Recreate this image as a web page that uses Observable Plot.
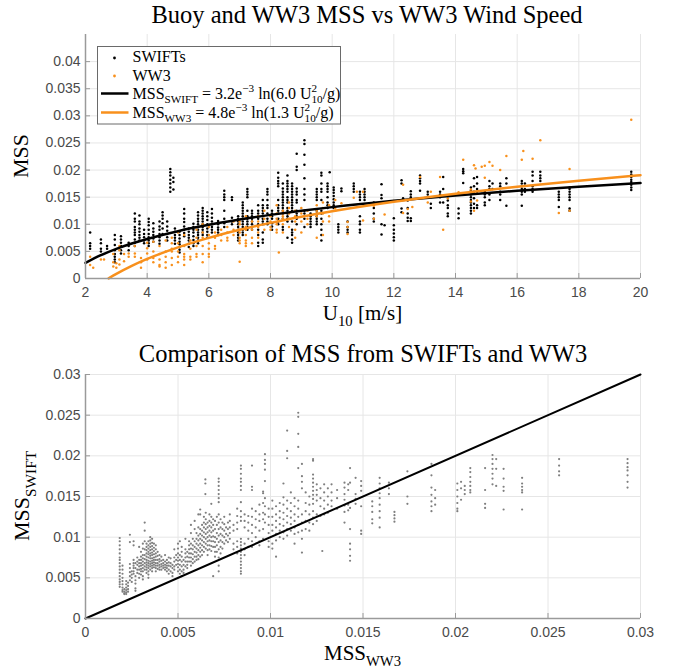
<!DOCTYPE html>
<html><head><meta charset="utf-8">
<script src="https://cdn.jsdelivr.net/npm/d3@7"></script>
<script src="https://cdn.jsdelivr.net/npm/@observablehq/plot@0.6"></script>
<style>
body{margin:0;background:#fff;}
#chart{width:679px;}
#chart svg{display:block;}
</style></head><body><div id="chart"></div>
<script>
// ---------- Top panel: MSS vs WW3 wind speed ----------
const topXTicks = [2, 4, 6, 8, 10, 12, 14, 16, 18, 20];
const topYTicks = [0, 0.005, 0.01, 0.015, 0.02, 0.025, 0.03, 0.035, 0.04];

// SWIFT buoy MSS, grouped by WW3 wind speed (vertical streaks)
const swiftU = [2.15,2.5,2.7,2.95,3.15,3.4,3.6,3.75,3.9,4.05,4.2,4.4,4.5,4.65,4.75,4.85,4.9,5.05,5.2,5.35,5.5,5.65,5.8,5.95,6.1,6.3,6.5,6.75,6.95,7.1,7.25,7.4,7.6,7.75,7.9,8.05,8.25,8.4,8.55,8.7,8.85,9.1,9.3,9.5,9.65,9.85,9.92,10.05,10.2,10.3,10.5,10.7,10.9,11.05,11.35,11.6,11.7,12.0,12.25,12.3,12.45,12.55,12.85,13.1,13.2,13.5,13.6,13.75,14.1,14.25,14.5,14.6,14.7,14.95,15.1,15.2,15.45,15.65,16.15,16.25,16.5,16.75,17.35,17.7,19.7];
const swiftMSS = [
 [0.0085,0.0065,0.006,0.0055],
 [0.0072,0.0065,0.0055,0.005],
 [0.006,0.0055],
 [0.008,0.0072,0.0062,0.0052,0.0045,0.004,0.0035,0.003],
 [0.0078,0.0072,0.0066,0.006,0.0052,0.0046],
 [0.0066,0.006,0.0052],
 [0.012,0.011,0.0105,0.0095,0.009,0.0085,0.008,0.0072,0.0066,0.006],
 [0.0116,0.0105,0.01,0.0092,0.0086,0.008,0.0075,0.007],
 [0.009,0.0082,0.0076,0.007,0.0065],
 [0.011,0.0104,0.0098,0.009,0.0082,0.0076,0.007,0.0065,0.006],
 [0.0102,0.0092,0.0086,0.008,0.0074,0.0068],
 [0.0105,0.0096,0.009,0.0082,0.0076,0.007,0.0064],
 [0.0122,0.0116,0.011,0.0102,0.0092,0.0082],
 [0.0105,0.0096,0.0088,0.0082,0.0076,0.007],
 [0.0202,0.0196,0.019,0.0182,0.0175,0.0168,0.016],
 [0.0186,0.0178,0.0164],
 [0.0092,0.0086,0.008,0.0075,0.007,0.0064],
 [0.0086,0.008,0.0074,0.0068,0.0063,0.0058,0.0053,0.0048],
 [0.0128,0.012,0.011,0.0104,0.0096,0.009,0.0084,0.0078],
 [0.0092,0.0086,0.008,0.0075,0.007,0.0064,0.0058],
 [0.0101,0.0095,0.009,0.0085,0.0078,0.0071,0.0065,0.006],
 [0.0122,0.0116,0.011,0.0105,0.01,0.0095,0.009,0.0085,0.008,0.0075,0.007,0.0065],
 [0.013,0.0125,0.012,0.0115,0.011,0.0105,0.01,0.0095,0.009,0.0085,0.008],
 [0.0122,0.0115,0.0108,0.01,0.0092,0.0086,0.008,0.0075],
 [0.0128,0.012,0.0112,0.0105,0.01,0.0095,0.009,0.0085],
 [0.0106,0.01,0.0094,0.009,0.0085,0.008],
 [0.0162,0.0155,0.015,0.0145,0.0125,0.011,0.0102,0.0095],
 [0.015,0.0145,0.0112,0.0105,0.01],
 [0.0115,0.011,0.0105,0.01,0.0095,0.009,0.0085,0.008,0.0075,0.007],
 [0.014,0.0135,0.013,0.0125,0.012,0.0115,0.011,0.0105,0.01,0.0095,0.009,0.0085,0.008],
 [0.0165,0.016,0.0155,0.015,0.0125,0.0115,0.011,0.0105,0.01,0.0095,0.009],
 [0.0125,0.012,0.0115,0.011,0.0105,0.01,0.0095,0.009],
 [0.0135,0.0125,0.012,0.0115,0.011,0.01,0.009,0.008,0.0066,0.006],
 [0.0145,0.0135,0.013,0.0125,0.012,0.011,0.0105,0.01,0.0085,0.0072,0.0066],
 [0.0165,0.016,0.0155,0.0145,0.0135,0.013,0.012,0.011,0.0105,0.01],
 [0.0125,0.012,0.0115,0.011,0.0102,0.0096,0.009],
 [0.0195,0.0186,0.018,0.0175,0.017,0.0145,0.0135,0.013,0.0125,0.012,0.011,0.0105,0.01],
 [0.0175,0.0166,0.016,0.0155,0.015,0.0145,0.014,0.0135,0.013,0.0125,0.012,0.011,0.0095,0.009],
 [0.019,0.018,0.0175,0.017,0.0165,0.016,0.015,0.0145,0.014,0.013,0.0125,0.012,0.0115,0.011,0.0105,0.0075],
 [0.0175,0.017,0.0165,0.016,0.0155,0.015,0.0145,0.014,0.0135,0.013,0.0125,0.0105,0.009,0.0085,0.008,0.0072,0.0066],
 [0.023,0.0206,0.02,0.0166,0.016,0.0155,0.0145,0.014,0.0125,0.012,0.0115,0.011,0.01],
 [0.0255,0.0248,0.0228,0.021,0.0185,0.0165,0.0155,0.0145,0.0125,0.012,0.011,0.0095],
 [0.012,0.0115,0.011,0.0105,0.01,0.0095],
 [0.0165,0.016,0.0155,0.015,0.0145,0.0125,0.012,0.0115,0.011,0.0105,0.01],
 [0.0195,0.019,0.0175,0.0165,0.016,0.0145,0.0125,0.012,0.011,0.01,0.009,0.008,0.007],
 [0.0175,0.017,0.0165,0.016,0.015,0.014,0.0135,0.013],
 [0.0196],
 [0.0168,0.0163,0.0158,0.0152,0.0146,0.014,0.0135,0.013],
 [0.01,0.0095,0.009,0.0085],
 [0.0166,0.0161],
 [0.0105,0.0095,0.009,0.0085],
 [0.0175,0.017,0.0165,0.016],
 [0.016,0.0155,0.015,0.0145,0.0115,0.0105,0.01,0.009,0.0085],
 [0.0165,0.016,0.0155,0.015,0.0145],
 [0.014,0.013,0.012,0.011,0.0105],
 [0.0174,0.0154,0.0148,0.01,0.0081],
 [0.0098],
 [0.0111,0.0098,0.009,0.0083,0.0076,0.007],
 [0.0181,0.0175,0.0129,0.0122],
 [0.0148],
 [0.0144,0.013,0.012,0.0112,0.0106],
 [0.0161,0.0155,0.015,0.0111,0.0106],
 [0.019,0.0185,0.018,0.0175,0.0162],
 [0.016,0.0155,0.015],
 [0.0138,0.013],
 [0.016,0.0155,0.015,0.014],
 [0.0187,0.0165,0.014],
 [0.0144,0.0135,0.013,0.012,0.0115],
 [0.0129,0.012,0.0111],
 [0.0202,0.0198,0.0194,0.0176],
 [0.0168,0.0162,0.0155,0.015,0.0145,0.014,0.0135,0.013,0.0125,0.012],
 [0.0185,0.017,0.016,0.0148,0.0138,0.013],
 [0.0187,0.0175,0.0165,0.016,0.0135,0.013],
 [0.016,0.0155,0.015,0.014,0.0135],
 [0.018,0.017,0.0165,0.0155,0.0145],
 [0.0175,0.0165],
 [0.0175,0.017,0.016,0.0155,0.0145],
 [0.0185,0.0175,0.0134],
 [0.018,0.0175,0.017,0.0165,0.016,0.0155,0.0134],
 [0.0175,0.0165,0.016],
 [0.0197,0.019,0.018,0.017,0.0165,0.016],
 [0.0197,0.019,0.0185,0.018],
 [0.016,0.0155,0.015,0.0145,0.0132],
 [0.0168,0.0165,0.016,0.0155,0.015,0.0145,0.0129,0.0125],
 [0.0197,0.0192,0.0187,0.0182,0.0178,0.0173,0.0168,0.0163]
];

// WW3 model MSS, grouped by WW3 wind speed
const ww3U = [2.15,2.25,2.5,2.6,2.9,3.0,3.1,3.25,3.4,3.6,3.8,4.0,4.2,4.4,4.6,4.8,5.0,5.2,5.4,5.6,5.8,6.0,6.2,6.4,6.6,6.8,7.0,7.2,7.4,7.6,7.8,8.0,8.2,8.27,8.4,8.6,8.8,9.0,9.2,9.5,9.7,9.9,10.1,10.3,10.5,10.7,10.8,11.0,11.35,11.7,12.0,12.3,12.45,12.6,12.85,13.1,13.2,13.5,13.6,13.75,14.1,14.25,14.5,14.6,14.65,14.7,14.85,14.95,15.1,15.2,15.45,15.65,16.15,16.2,16.5,16.75,17.35,17.7,19.7];
const ww3MSS = [
 [0.004,0.0025],[0.002],[0.0035],[0.0035],[0.0045,0.003,0.0022],[0.0028,0.002],
 [0.006,0.0052,0.0035,0.0026],[0.0032,0.0045],[0.004,0.0046],[0.006,0.0046,0.004],
 [0.0038,0.003,0.002],[0.0066,0.0056,0.0046,0.0035],[0.0068,0.005,0.0038,0.003],
 [0.006,0.0045,0.0035,0.0025,0.0022],[0.007,0.005,0.004,0.003,0.002],
 [0.0075,0.0065,0.0055,0.005,0.0038,0.0025],[0.0085,0.0065,0.005,0.004,0.003],
 [0.008,0.006,0.0045,0.004,0.0035,0.0025],[0.007,0.0055,0.004,0.0035],
 [0.009,0.0075,0.006,0.0045,0.004],[0.01,0.0085,0.0075,0.006,0.0045,0.003],
 [0.0095,0.008,0.0065,0.0055,0.0045,0.004],[0.0085,0.0075,0.006,0.0055],
 [0.009,0.008,0.007],[0.0095,0.0085,0.0075,0.007],[0.0105,0.009,0.008],
 [0.0105,0.01,0.009,0.0085,0.0075,0.007,0.0065,0.0031],
 [0.0115,0.0095,0.009,0.008,0.007,0.0065,0.006],[0.0105,0.009,0.0075,0.0065],
 [0.0115,0.0105,0.0095,0.0085,0.0075],[0.0125,0.011,0.01,0.009],
 [0.0115,0.0105,0.0095,0.009],[0.0135,0.012,0.011,0.01,0.009,0.0085],[0.0048],
 [0.0125,0.012,0.0115,0.011,0.01,0.0085],[0.014,0.013,0.012,0.011,0.0095],
 [0.0125,0.0115,0.0105,0.009,0.0075],[0.013,0.012,0.0105,0.0085],[0.0125,0.011,0.01],
 [0.0135,0.0125,0.012,0.0115,0.0075],[0.014,0.013,0.012,0.0105,0.008],
 [0.0135,0.0115,0.0105],[0.0145,0.013,0.0125],[0.0139],[0.0104,0.0095,0.0082],
 [0.0149],[0.016],[0.0107,0.016],[0.0134,0.011],[0.0118],[0.0143],[0.0173,0.0121],
 [0.0128],[0.0132],[0.0187],[0.014],[0.016],[0.0187],[0.009],[0.0148],[0.0159],
 [0.0219],[0.0164,0.0142],[0.0209,0.0125],[0.0203],[0.0144],[0.0206],[0.0208,0.0186],
 [0.0215],[0.0208],[0.02],[0.0226],[0.0219],[0.0235],[0.0221],[0.0255],[0.0121],
 [0.0202,0.0125],[0.0293]
];

// Fitted curves (values along the fits given in the legend)
const fitSwiftU = [2, 2.5, 3, 3.5, 4, 5, 6, 7, 8, 9, 10, 12, 14, 16, 18, 20];
const fitSwiftMSS = [0.002863,0.004291,0.005458,0.006444,0.007299,0.008727,0.009894,0.010881,0.011735,0.012489,0.013163,0.014330,0.015317,0.016171,0.016925,0.017599];
const fitWW3U = [2.75, 3, 3.5, 4, 4.5, 5, 6, 7, 8, 9, 10, 12, 14, 16, 18, 20];
const fitWW3MSS = [0.00001,0.000846,0.002325,0.003607,0.004738,0.005750,0.007500,0.008980,0.010262,0.011392,0.012404,0.014154,0.015634,0.016916,0.018047,0.019058];

// ---------- Bottom panel: SWIFT MSS vs WW3 MSS ----------
const cmpTicks = [0, 0.005, 0.01, 0.015, 0.02, 0.025, 0.03];
const oneToOne = [0, 0.03];
const cmpWW3 = [0.00185,0.002,0.0021,0.0022,0.0023,0.0024,0.0025,0.0026,0.0027,0.0028,0.0029,0.003,0.0031,0.0032,0.0033,0.0034,0.0035,0.0036,0.0037,0.0038,0.0039,0.004,0.0041,0.0042,0.0043,0.0044,0.0045,0.0046,0.0047,0.0048,0.0049,0.005,0.0051,0.0052,0.0053,0.0054,0.0055,0.0056,0.0057,0.0058,0.0059,0.006,0.0061,0.0062,0.0063,0.0064,0.00648,0.0065,0.0066,0.0067,0.0068,0.0069,0.007,0.0071,0.0072,0.0073,0.0074,0.0075,0.0076,0.0077,0.0078,0.008,0.0082,0.0084,0.0086,0.0088,0.009,0.0092,0.0094,0.0096,0.0097,0.0099,0.0101,0.0103,0.0105,0.0107,0.0109,0.0111,0.0113,0.0115,0.0117,0.0119,0.0121,0.0123,0.0125,0.0127,0.0128,0.0129,0.0131,0.0133,0.0136,0.014,0.0142,0.0143,0.0146,0.0149,0.0155,0.0159,0.0164,0.0167,0.0174,0.0187,0.0189,0.0201,0.0203,0.0205,0.0208,0.0216,0.022,0.0222,0.0226,0.0236,0.0256,0.0293];
const cmpSwift = [
 [0.0099,0.0095,0.009,0.0085,0.008,0.0075,0.0072,0.0068,0.0064,0.006,0.0056,0.0052,0.0048,0.0045,0.0042,0.0039],
 [0.0065,0.006,0.0055,0.005,0.0046,0.0042,0.0038,0.0035,0.0033],
 [0.0036,0.0033,0.0031,0.003],
 [0.0046,0.0042,0.0038,0.0035,0.0032,0.003],
 [0.0044,0.004,0.0036,0.0033],
 [0.0103,0.0094,0.0067,0.0062,0.0057,0.0052,0.0047],
 [0.0058,0.0054,0.005,0.0045],
 [0.0095,0.009,0.0072,0.0068,0.0065,0.0062,0.0058,0.0055],
 [0.0068,0.0062,0.0052,0.0047,0.0043,0.0037,0.0034],
 [0.0075,0.007,0.0066,0.006,0.0056],
 [0.0088,0.0072,0.0068,0.0064,0.006,0.0055,0.005],
 [0.0082,0.0076,0.0072,0.0068,0.0065,0.0061,0.0058,0.0054],
 [0.0092,0.0086,0.0078,0.0074,0.007,0.0066,0.0062,0.0058,0.0052,0.0048],
 [0.0118,0.0108,0.0095,0.0085,0.0078,0.0073,0.0068,0.0064,0.006],
 [0.0092,0.0088,0.0084,0.008,0.0076,0.0072,0.0069,0.0066,0.0063,0.006,0.0056],
 [0.0095,0.009,0.0086,0.0082,0.0079,0.0075,0.0071,0.0068,0.0065,0.0062,0.0058,0.0054,0.005],
 [0.01,0.0096,0.0092,0.0088,0.0084,0.008,0.0077,0.0074,0.007,0.0067,0.0064,0.006],
 [0.0098,0.0093,0.0089,0.0085,0.0081,0.0078,0.0074,0.0071,0.0068,0.0065,0.0062,0.0058],
 [0.0092,0.0087,0.0083,0.0079,0.0075,0.0072,0.0069,0.0066,0.0063],
 [0.009,0.0085,0.008,0.0076,0.0072,0.0068,0.0065,0.0062,0.0058],
 [0.0082,0.0077,0.0072,0.0068,0.0065,0.0061],
 [0.0078,0.0073,0.007,0.0066,0.0063,0.006],
 [0.0076,0.0071,0.0067,0.0064,0.006],
 [0.0072,0.0068,0.0065,0.0062],
 [0.0078,0.007,0.0066,0.0063,0.006],
 [0.0072,0.0068,0.0065,0.0062,0.0058],
 [0.0075,0.0069,0.0065,0.006,0.0055],
 [0.0074,0.0068,0.0064,0.0058],
 [0.0066,0.0062,0.0056,0.0052],
 [0.0085,0.0075,0.007,0.0064,0.006],
 [0.0078,0.0072,0.0066],
 [0.0092,0.0086,0.008,0.0075,0.0071,0.0067,0.0063,0.0058],
 [0.0095,0.0078,0.0072,0.0066,0.006,0.0055],
 [0.0088,0.0082,0.0076,0.007,0.0064,0.0058,0.0052],
 [0.0072,0.0066,0.006,0.0056],
 [0.0098,0.0085,0.008,0.0075,0.007,0.0064],
 [0.0082,0.0076,0.007,0.0066,0.0062],
 [0.0095,0.009,0.0085,0.008,0.0075,0.007],
 [0.0115,0.0105,0.0092,0.0086,0.008,0.0075,0.007,0.0065],
 [0.0098,0.009,0.0085,0.0079,0.0073,0.0068],
 [0.012,0.011,0.0095,0.0088,0.0082,0.0076,0.007],
 [0.0105,0.0098,0.0092,0.0086,0.0081,0.0076,0.0072],
 [0.0128,0.0112,0.0102,0.0096,0.009,0.0084,0.0078,0.0073],
 [0.0134,0.0128,0.011,0.0104,0.0098,0.0092,0.0087,0.0082,0.0076],
 [0.0115,0.0108,0.0102,0.0096,0.009,0.0084,0.0078],
 [0.0125,0.0118,0.0112,0.0106,0.01,0.0094,0.0088,0.0082],
 [0.0171,0.0166,0.0153],
 [0.013,0.0122,0.0116,0.011,0.0104,0.0098,0.0092,0.0086],
 [0.0118,0.0112,0.0106,0.01,0.0095,0.009,0.0084,0.0078],
 [0.0128,0.012,0.0114,0.0108,0.0102,0.0096,0.009,0.0085],
 [0.0141,0.0125,0.0118,0.0112,0.0106,0.01,0.0095,0.0089,0.0083],
 [0.0122,0.0115,0.0108,0.0101,0.0095,0.0088,0.0052],
 [0.012,0.011,0.01,0.0094,0.0088,0.0082,0.0076],
 [0.0125,0.0115,0.0105,0.0098,0.009,0.0082],
 [0.0172,0.0168,0.0163,0.0158,0.0153,0.0148,0.0143,0.0128,0.0118,0.011,0.0102,0.0094,0.0085,0.0075,0.0065,0.0058],
 [0.0122,0.0112,0.0104,0.0096,0.0088,0.008],
 [0.0118,0.011,0.0102,0.0094,0.0086],
 [0.0125,0.0116,0.0108,0.01,0.0092],
 [0.0112,0.0104,0.0096],
 [0.0118,0.011,0.0102,0.0094],
 [0.0128,0.012,0.0112,0.0105,0.0098],
 [0.0115,0.0108,0.0092,0.0085],
 [0.0135,0.0126,0.0118,0.011,0.0095,0.0088,0.008],
 [0.0188,0.0184,0.0178,0.0172,0.0168,0.0163,0.0158,0.0143,0.0132,0.0125,0.012,0.0098,0.0094,0.009,0.0086,0.0082,0.0078,0.0074,0.007,0.0066,0.0062,0.0058,0.0055],
 [0.0128,0.012,0.0112,0.0092,0.0085,0.0078],
 [0.0126,0.0118,0.0108,0.0098,0.0088],
 [0.0188,0.0162,0.0158,0.0135,0.0125,0.0115,0.0105,0.0095,0.0088],
 [0.0132,0.0122,0.0112,0.01],
 [0.014,0.0128,0.012,0.0108,0.0095,0.009],
 [0.0156,0.0154,0.0142,0.013,0.0122,0.011,0.0098],
 [0.0202,0.0195,0.019,0.0183,0.0169,0.0148,0.0138,0.0128,0.0118],
 [0.0135,0.0125,0.0115,0.0105,0.0095,0.0088],
 [0.0145,0.0135,0.0125,0.0115,0.0108,0.0092,0.0086],
 [0.0138,0.0128,0.012,0.0112,0.0104,0.0096,0.0076],
 [0.0142,0.0132,0.0124,0.0116,0.0108,0.01],
 [0.0166,0.0149,0.014,0.013,0.0122,0.0114,0.0106,0.0098],
 [0.0231,0.0206,0.0197,0.0145,0.0135,0.0126,0.0118,0.011,0.0102],
 [0.0155,0.0142,0.0132,0.0124,0.0116,0.0108],
 [0.0148,0.0138,0.0128,0.012,0.0112,0.0104,0.0092],
 [0.0253,0.0248,0.0227,0.0211,0.0185,0.0145,0.0135,0.0125,0.0115,0.0106],
 [0.019,0.0175,0.0168,0.016,0.0128,0.0118,0.0108,0.0098,0.0081],
 [0.0155,0.0142,0.0132,0.012,0.011],
 [0.015,0.014,0.0128,0.0118,0.0108],
 [0.0196,0.0194,0.0177,0.0172,0.0167,0.0162,0.0157,0.0152,0.0147,0.0141,0.0132,0.0124,0.0116],
 [0.0165,0.0158,0.0152,0.0145,0.0128,0.012],
 [0.016,0.0148,0.0138,0.0126],
 [0.0083],
 [0.0165,0.0155,0.0145,0.0135,0.0128],
 [0.016,0.015,0.014,0.013],
 [0.0165,0.0155,0.0145,0.0138],
 [0.0158,0.0148,0.0135],
 [0.0167,0.0161,0.0153,0.0146,0.0139,0.0131,0.0118],
 [0.0165,0.0158,0.014,0.0133],
 [0.0185,0.0167,0.0136,0.011,0.0092,0.0085,0.0077,0.0071],
 [0.0173,0.0153,0.0147,0.0141],
 [0.0169,0.0163,0.0157,0.0138,0.0108,0.0104],
 [0.0144,0.0138,0.0131,0.0122,0.0117],
 [0.0173,0.0166,0.016,0.0154,0.0148,0.014,0.0132,0.0124,0.0112],
 [0.0167,0.016,0.0153],
 [0.0131,0.0127,0.0123,0.0119],
 [0.0181,0.015,0.0141],
 [0.019,0.0176,0.0161,0.0152,0.0144,0.0138,0.0132],
 [0.0158,0.0148,0.014],
 [0.0166,0.0158,0.015,0.0142,0.0135,0.0132],
 [0.0168,0.016,0.0146],
 [0.0163,0.0158,0.0153],
 [0.0185,0.018,0.0174,0.0168,0.0163,0.0158,0.0155],
 [0.0185,0.0158,0.0141,0.0136],
 [0.0201,0.0196,0.019,0.0184,0.0178,0.0172,0.0165],
 [0.0196,0.0184,0.0163],
 [0.0184,0.0172,0.0162,0.0157,0.0134],
 [0.0173,0.0166,0.0162,0.0158,0.0155,0.0134],
 [0.0196,0.0188,0.0181,0.0176],
 [0.0196,0.0191,0.0186,0.0182,0.0176,0.0168,0.0161]
];

// ---------- build tables ----------
const flat = (xs, yss) => xs.flatMap((x, i) => yss[i].map(y => ({x, y})));
const swiftPts = flat(swiftU, swiftMSS);
const ww3Pts = flat(ww3U, ww3MSS);
const cmpPts = flat(cmpWW3, cmpSwift);
const fitSwift = fitSwiftU.map((x, i) => ({x, y: fitSwiftMSS[i]}));
const fitWW3 = fitWW3U.map((x, i) => ({x, y: fitWW3MSS[i]}));
const diag = oneToOne.map(v => ({x: v, y: v}));

const ORANGE = "#f8901c";
const AXIS = "#9a9a9a";
const GRID = "#e6e6e6";
const TICKTXT = "#4a4a4a";
const SERIF = "Liberation Serif, serif";
const fmt = d => String(d);

function axes(xt, yt) {
  return [
    Plot.axisX(xt, {tickSize: -5, tickPadding: 14, stroke: AXIS, fill: TICKTXT, fontSize: 14, tickFormat: fmt, label: null}),
    Plot.axisY(yt, {tickSize: -5, tickPadding: 10, stroke: AXIS, fill: TICKTXT, fontSize: 14, tickFormat: fmt, label: null})
  ];
}

const common = {width: 679, marginLeft: 85, marginRight: 39,
  style: {fontFamily: "Liberation Sans, Arial, sans-serif", background: "white", color: TICKTXT}};

const topPlot = Plot.plot({
  ...common, height: 330, marginTop: 34, marginBottom: 52,
  x: {domain: [2, 20]}, y: {domain: [0, 0.045]},
  marks: [
    Plot.gridX(topXTicks, {stroke: GRID, strokeOpacity: 1}),
    Plot.gridY(topYTicks, {stroke: GRID, strokeOpacity: 1}),
    Plot.dot(swiftPts, {x: "x", y: "y", r: 1.25, fill: "black", strokeWidth: 0}),
    Plot.dot(ww3Pts, {x: "x", y: "y", r: 1.25, fill: ORANGE, strokeWidth: 0}),
    Plot.line(fitSwift, {x: "x", y: "y", stroke: "black", strokeWidth: 2.5, curve: "monotone-x"}),
    Plot.line(fitWW3, {x: "x", y: "y", stroke: ORANGE, strokeWidth: 2.5, curve: "monotone-x"}),
    ...axes(topXTicks, topYTicks),
    Plot.ruleX([2], {stroke: AXIS, strokeWidth: 1.5}),
    Plot.ruleY([0], {stroke: AXIS, strokeWidth: 1.5})
  ]
});

const botPlot = Plot.plot({
  ...common, height: 340, marginTop: 44, marginBottom: 52,
  x: {domain: [0, 0.03]}, y: {domain: [0, 0.03]},
  marks: [
    Plot.gridX(cmpTicks, {stroke: GRID, strokeOpacity: 1}),
    Plot.gridY(cmpTicks, {stroke: GRID, strokeOpacity: 1}),
    Plot.dot(cmpPts, {x: "x", y: "y", r: 1.1, fill: "#7f7f7f", strokeWidth: 0}),
    Plot.line(diag, {x: "x", y: "y", stroke: "black", strokeWidth: 2}),
    ...axes(cmpTicks, cmpTicks),
    Plot.ruleX([0], {stroke: AXIS, strokeWidth: 1.5}),
    Plot.ruleY([0], {stroke: AXIS, strokeWidth: 1.5})
  ]
});

// ---------- rich text (titles, labels, legend) ----------
function rich(svg, {x, y, size, anchor = "start", rotate = 0, parts, fill = "#000"}) {
  const t = d3.select(svg).append("text")
    .attr("transform", `translate(${x},${y}) rotate(${rotate})`)
    .attr("text-anchor", anchor).attr("font-family", SERIF)
    .attr("font-size", size).attr("fill", fill);
  let shift = 0;
  for (const p of parts) {
    const ts = t.append("tspan").text(p.t);
    const target = p.sub ? size * 0.3 : p.sup ? -size * 0.42 : 0;
    if (target - shift !== 0) ts.attr("dy", target - shift);
    shift = target;
    if (p.sub || p.sup) ts.attr("font-size", size * 0.7);
    if (p.dx) ts.attr("dx", p.dx);
  }
  return t;
}

rich(topPlot, {x: 367, y: 23, size: 24.5, anchor: "middle", parts: [{t: "Buoy and WW3 MSS vs WW3 Wind Speed"}]});
rich(topPlot, {x: 362.5, y: 320, size: 21, anchor: "middle", parts: [{t: "U"}, {t: "10", sub: true}, {t: " [m/s]"}]});
rich(topPlot, {x: 28, y: 156, size: 22, anchor: "middle", rotate: -90, parts: [{t: "MSS"}]});

rich(botPlot, {x: 363, y: 32, size: 24.5, anchor: "middle", parts: [{t: "Comparison of MSS from SWIFTs and WW3"}]});
rich(botPlot, {x: 362.5, y: 330, size: 21, anchor: "middle", parts: [{t: "MSS"}, {t: "WW3", sub: true}]});
rich(botPlot, {x: 29, y: 166, size: 22, anchor: "middle", rotate: -90, parts: [{t: "MSS"}, {t: "SWIFT", sub: true}]});

// legend
const lg = d3.select(topPlot).append("g");
lg.append("rect").attr("x", 97.5).attr("y", 46.5).attr("width", 243).attr("height", 77.5)
  .attr("fill", "white").attr("stroke", "#6a6a6a").attr("stroke-width", 1);
lg.append("circle").attr("cx", 114.5).attr("cy", 58).attr("r", 1.4).attr("fill", "black");
lg.append("circle").attr("cx", 114.5).attr("cy", 76).attr("r", 1.4).attr("fill", ORANGE);
lg.append("line").attr("x1", 101).attr("x2", 128.5).attr("y1", 93.5).attr("y2", 93.5).attr("stroke", "black").attr("stroke-width", 2.5);
lg.append("line").attr("x1", 101).attr("x2", 128.5).attr("y1", 112.5).attr("y2", 112.5).attr("stroke", ORANGE).attr("stroke-width", 2.5);
rich(topPlot, {x: 132.5, y: 62, size: 16, parts: [{t: "SWIFTs"}]});
rich(topPlot, {x: 132.5, y: 80.5, size: 16, parts: [{t: "WW3"}]});
rich(topPlot, {x: 132.5, y: 98.5, size: 16, parts: [
  {t: "MSS"}, {t: "SWIFT", sub: true}, {t: " = 3.2e"}, {t: "\u22123", sup: true},
  {t: " ln(6.0 U"}, {t: "2", sup: true}, {t: "10", sub: true, dx: -5.6}, {t: "/g)"}]});
rich(topPlot, {x: 132.5, y: 117.5, size: 16, parts: [
  {t: "MSS"}, {t: "WW3", sub: true}, {t: " = 4.8e"}, {t: "\u22123", sup: true},
  {t: " ln(1.3 U"}, {t: "2", sup: true}, {t: "10", sub: true, dx: -5.6}, {t: "/g)"}]});

const chart = document.getElementById("chart");
chart.append(topPlot, botPlot);
</script>
</body></html>
